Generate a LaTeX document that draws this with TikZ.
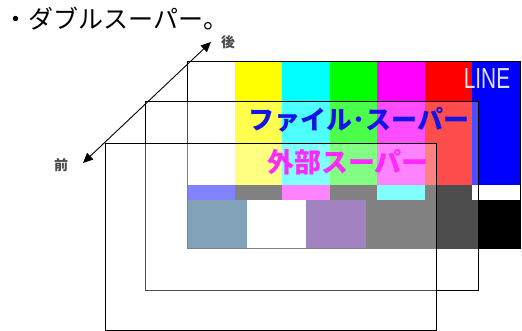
\documentclass[tikz,border=0pt]{standalone}
\usepackage{fontspec}
\setsansfont{Liberation Sans}
\newfontfamily\cjk{Noto Sans CJK JP}
\usetikzlibrary{arrows.meta}

\definecolor{barWhite}{RGB}{255,255,255}
\definecolor{barYellow}{RGB}{255,255,0}
\definecolor{barCyan}{RGB}{0,255,255}
\definecolor{barGreen}{RGB}{0,255,0}
\definecolor{barMagenta}{RGB}{255,0,255}
\definecolor{barRed}{RGB}{255,0,0}
\definecolor{barBlue}{RGB}{0,0,255}
\definecolor{barBlack}{RGB}{0,0,0}
\definecolor{iNeg}{RGB}{0,65,113}
\definecolor{qPos}{RGB}{65,0,129}
\definecolor{fileBlue}{RGB}{20,20,230}
\definecolor{extMagenta}{RGB}{255,40,255}

\begin{document}
\begin{tikzpicture}[x=1pt, y=-1pt,
  frame/.style={draw=black, line width=0.9pt, fill=white, fill opacity=0.3},
  axis/.style={{Triangle[length=10pt, width=9pt]}-{Triangle[length=10pt, width=9pt]}, line width=0.9pt},
  dirlabel/.style={font=\cjk\bfseries\fontsize{14}{14}\selectfont, text=black!70},
  supertext/.style={font=\cjk\bfseries\fontsize{#1}{#1}\selectfont}]
\useasboundingbox (0,0) rectangle (522,331);

% colour bars of the line picture
\foreach \c [count=\i from 0] in {barWhite, barYellow, barCyan, barGreen, barMagenta, barRed, barBlue}
  \fill[\c] (187+\i*47.57, 61) rectangle ++(47.57, 124);
\foreach \c [count=\i from 0] in {barBlue, barBlack, barMagenta, barBlack, barCyan, barBlack, barWhite}
  \fill[\c] (187+\i*47.57, 185) rectangle ++(47.57, 15);
\fill[iNeg] (187,200) rectangle ++(59.5,48);
\fill[white] (246.5,200) rectangle ++(59.5,48);
\fill[qPos] (306,200) rectangle ++(59.5,48);
\fill[black] (365.5,200) rectangle (520,248);
\draw[line width=0.9pt] (187,61) rectangle (520,248);
\node[font=\sffamily\fontsize{29}{29}\selectfont, text=black!12, xscale=0.72] (line) at (487,79) {LINE};

% file super
\draw[frame] (145,101) rectangle (478,290);
\node[supertext=26, text=fileBlue] (filesuper) at (359,120) {ファイル･スーパー};

% external super
\draw[frame] (105,143) rectangle (436,330);
\node[supertext=27, text=extMagenta] (extsuper) at (348,162) {外部スーパー};

% front / back
\coordinate (front) at (83,163);
\coordinate (back) at (211,42);
\draw[axis] (front) -- (back);
\node[dirlabel] (behind) at (228,42) {後};
\node[dirlabel] (ahead) at (61,165) {前};

\node[anchor=west, font=\cjk\fontsize{25}{25}\selectfont] (title) at (0,19) {・ダブルスーパー。};
\end{tikzpicture}
\end{document}
